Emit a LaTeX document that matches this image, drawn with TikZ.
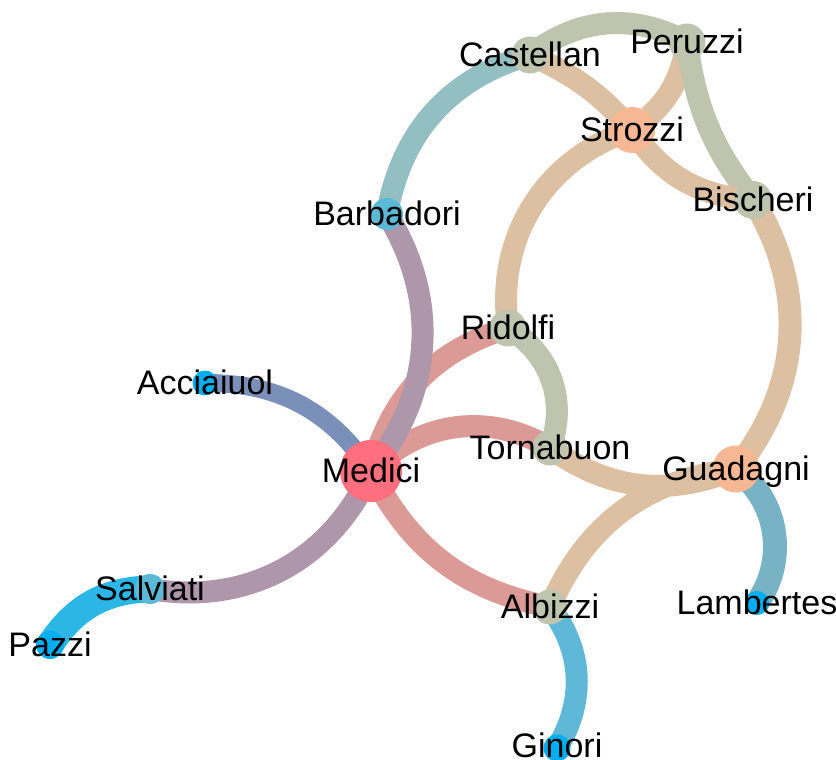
\documentclass[tikz,border=0pt]{standalone}
\usepackage{fontspec}
\setmainfont{Liberation Sans}
\usetikzlibrary{backgrounds}

\definecolor{medred}{HTML}{FF6F7E}
\definecolor{peach}{HTML}{F5B794}
\definecolor{sage}{HTML}{BEC4AE}
\definecolor{skyblue}{HTML}{00AEEF}
\definecolor{midblue}{HTML}{5BB8D7}
\definecolor{rosetie}{HTML}{DC9A96}
\definecolor{mauvetie}{HTML}{AE97AB}
\definecolor{slatetie}{HTML}{7B8FBB}
\definecolor{tantie}{HTML}{DDBFA1}
\definecolor{tealtie}{HTML}{93BFC3}
\definecolor{steeltie}{HTML}{78B3C5}
\definecolor{cyantie}{HTML}{5FB8D8}
\definecolor{pazzitie}{HTML}{2BB6E6}

\begin{document}
\begin{tikzpicture}[x=1pt,y=1pt,
    fam/.style={circle,inner sep=0pt,fill=#1},
    famlabel/.style={font=\fontsize{34}{40}\selectfont,text height=24pt,text depth=0pt,inner sep=0pt},
    tie/.style={line width=22pt,draw=#1}]
  \useasboundingbox (0,0) rectangle (836,760);

  % Families
  \node[fam=medred,minimum size=62pt] (medici) at (371,289) {};
  \node[fam=skyblue,minimum size=25pt] (acciaiuol) at (205,377) {};
  \node[fam=midblue,minimum size=30pt] (salviati) at (150,171) {};
  \node[fam=skyblue,minimum size=28pt] (pazzi) at (50,115) {};
  \node[fam=midblue,minimum size=32pt] (barbadori) at (387,546) {};
  \node[fam=sage,minimum size=37pt] (castellan) at (530,705) {};
  \node[fam=sage,minimum size=37pt] (peruzzi) at (687,718) {};
  \node[fam=peach,minimum size=46pt] (strozzi) at (632,630) {};
  \node[fam=sage,minimum size=38pt] (bischeri) at (753,560) {};
  \node[fam=sage,minimum size=37pt] (ridolfi) at (508,432) {};
  \node[fam=sage,minimum size=35pt] (tornabuon) at (550,312) {};
  \node[fam=peach,minimum size=47pt] (guadagni) at (736,291) {};
  \node[fam=sage,minimum size=35pt] (albizzi) at (550,153) {};
  \node[fam=skyblue,minimum size=24pt] (lambertes) at (757,157) {};
  \node[fam=skyblue,minimum size=27pt] (ginori) at (557,12) {};

  % Marriage ties
  \begin{scope}[on background layer]
    \draw[tie=slatetie,line width=18pt] (acciaiuol.center) to[bend left=28] (medici.center);
    \draw[tie=mauvetie] (salviati.center) to[bend right=38] (medici.center);
    \draw[tie=pazzitie,line width=27pt] (pazzi.center) to[bend left=28] (salviati.center);
    \draw[tie=rosetie] (medici.center) to[bend left=29] (ridolfi.center);
    \draw[tie=rosetie] (medici.center) to[bend left=38] (tornabuon.center);
    \draw[tie=rosetie] (medici.center) to[bend right=26] (albizzi.center);
    \draw[tie=mauvetie] (medici.center) to[bend right=35] (barbadori.center);
    \draw[tie=tealtie] (barbadori.center) to[bend left=32] (castellan.center);
    \draw[tie=sage] (castellan.center) to[bend left=33] (peruzzi.center);
    \draw[tie=tantie] (castellan.center) to[bend left=12] (strozzi.center);
    \draw[tie=tantie] (peruzzi.center) to[bend left=23] (strozzi.center);
    \draw[tie=sage] (peruzzi.center) to[bend right=15] (bischeri.center);
    \draw[tie=tantie] (strozzi.center) to[bend right=26] (bischeri.center);
    \draw[tie=tantie] (ridolfi.center) to[bend left=40] (strozzi.center);
    \draw[tie=tantie,line width=23pt] (bischeri.center) to[bend left=35] (guadagni.center);
    \draw[tie=sage] (ridolfi.center) to[bend left=40] (tornabuon.center);
    \draw[tie=tantie] (tornabuon.center) to[bend right=29] (guadagni.center);
    \draw[tie=tantie] (albizzi.center) to[bend left=30] (guadagni.center);
    \draw[tie=steeltie,line width=24pt] (guadagni.center) to[bend left=44] (lambertes.center);
    \draw[tie=cyantie] (albizzi.center) to[bend left=34] (ginori.center);
  \end{scope}

  % Names
  \foreach \fam/\name in {medici/Medici,acciaiuol/Acciaiuol,salviati/Salviati,
      pazzi/Pazzi,barbadori/Barbadori,castellan/Castellan,peruzzi/Peruzzi,
      strozzi/Strozzi,bischeri/Bischeri,ridolfi/Ridolfi,tornabuon/Tornabuon,
      guadagni/Guadagni,albizzi/Albizzi,lambertes/Lambertes}
    \node[famlabel] (\fam-name) at (\fam) {\name};
  \node[famlabel] (ginori-name) at ([yshift=2pt]ginori) {Ginori};
\end{tikzpicture}
\end{document}
